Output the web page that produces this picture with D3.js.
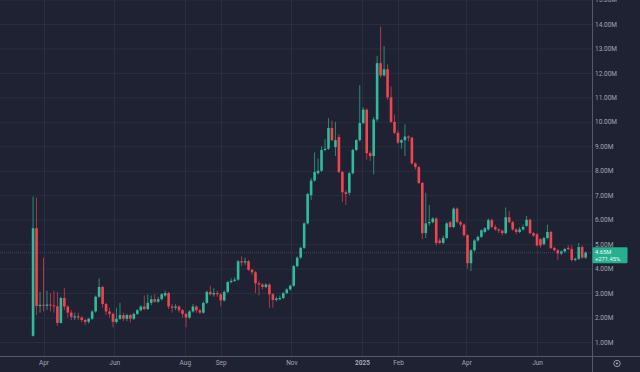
<!DOCTYPE html>
<html><head><meta charset="utf-8">
<script src="https://cdn.jsdelivr.net/npm/d3@7"></script>
<style>html,body{margin:0;padding:0;background:#1f2233;overflow:hidden}svg{display:block}</style>
</head><body><svg id="c" width="640" height="372"></svg>
<script>
// ---- data (3-day candles, values in millions) ----
const startDate = "2024-03-23";
const stepDays = 3;
const opens = [1.25,5.65,2.47,2.52,2.48,2.53,2.50,2.46,1.78,2.80,2.45,2.20,2.00,2.05,2.00,1.90,1.83,1.95,2.25,2.85,
3.25,2.55,2.25,2.15,1.82,1.95,2.10,1.95,2.10,1.95,2.15,2.30,2.45,2.35,2.60,2.75,2.65,2.75,2.90,3.00,
2.45,2.40,2.45,2.30,2.15,2.00,2.25,2.45,2.30,2.20,2.60,3.05,2.95,3.00,2.95,2.70,3.05,3.45,3.50,3.55,
4.30,4.25,4.30,3.95,3.85,3.40,3.35,3.25,3.35,2.95,2.72,2.75,2.80,3.00,3.15,3.30,4.10,4.45,4.85,5.85,
7.00,7.60,7.90,8.00,8.85,8.90,9.75,8.97,9.38,7.95,7.12,7.10,7.90,8.85,9.25,9.95,10.50,8.72,8.60,10.10,
12.40,11.90,12.15,11.00,10.00,9.55,9.15,9.25,9.40,9.35,8.30,8.15,7.50,5.45,5.85,5.90,6.05,5.15,5.05,5.25,
5.90,5.70,6.45,5.90,5.80,5.37,4.22,4.75,5.15,5.30,5.50,5.60,5.98,5.70,5.60,5.55,5.45,6.10,5.90,5.60,
5.50,5.60,5.75,6.00,5.45,5.40,5.20,5.00,5.25,5.50,4.84,4.75,4.62,4.70,4.85,4.80,4.35,4.40,4.88,4.45];
const highs = [6.95,6.90,3.05,4.45,3.10,3.00,3.10,3.05,2.85,3.20,2.50,2.30,2.20,2.20,2.05,1.95,2.00,2.30,2.90,3.60,
3.30,2.60,2.40,2.20,2.40,2.60,2.20,2.15,2.15,2.20,2.35,2.50,2.90,2.95,2.90,2.95,2.85,3.00,3.10,3.05,
2.55,2.55,2.50,2.35,2.20,2.30,2.55,2.50,2.35,2.65,3.10,3.30,3.20,3.10,3.00,3.10,3.50,3.60,3.65,4.35,
4.50,4.45,4.35,4.00,3.90,3.50,3.40,3.40,3.40,3.00,2.85,2.90,3.05,3.20,3.35,4.15,4.50,4.90,5.90,7.10,
7.70,8.75,8.50,9.00,9.30,10.15,10.05,10.00,9.50,8.00,7.20,7.95,8.90,9.30,11.50,10.60,10.55,8.80,10.20,12.70,
13.90,13.10,12.35,11.45,10.30,9.65,9.30,9.90,9.45,9.40,8.35,8.20,7.55,7.10,6.60,6.10,6.10,5.25,5.35,5.90,
5.95,6.50,6.50,5.95,5.85,5.40,4.80,5.20,5.35,5.60,5.70,6.05,6.05,5.80,5.65,5.60,6.50,6.35,5.95,5.65,
5.70,5.80,6.15,6.05,5.50,5.45,5.25,5.30,5.80,5.55,4.90,4.80,4.75,4.85,4.95,4.95,4.45,5.05,4.95,4.70];
const lows = [1.22,2.10,2.20,2.25,2.30,2.25,2.20,1.65,1.75,2.30,2.00,1.90,1.90,1.90,1.80,1.70,1.75,1.90,2.20,2.80,
2.40,2.10,2.00,1.60,1.75,1.90,1.85,1.85,1.80,1.90,2.10,2.25,2.30,2.30,2.50,2.60,2.60,2.70,2.85,2.35,
2.20,2.30,2.20,2.00,1.60,1.95,2.20,2.20,2.15,2.15,2.55,2.90,2.85,2.85,2.45,2.65,3.00,3.40,3.45,3.50,
4.10,4.15,3.90,3.75,3.00,2.90,3.15,3.20,2.40,2.40,2.65,2.70,2.75,2.95,3.10,3.25,4.05,4.40,4.80,5.80,
6.80,7.55,7.85,7.95,8.80,8.85,9.20,8.60,7.90,6.72,6.60,7.00,7.85,8.80,9.20,9.90,8.45,8.40,7.85,10.00,
11.80,11.85,10.90,9.95,9.50,9.10,8.90,8.60,9.20,8.25,8.05,7.45,5.20,5.25,5.75,5.85,4.95,5.00,5.00,5.20,
5.65,5.65,5.85,5.70,5.30,4.00,3.90,4.70,5.10,5.25,5.45,5.55,5.65,5.55,5.45,5.35,5.40,5.85,5.55,5.40,
5.45,5.55,5.70,5.40,5.30,4.90,4.85,4.95,5.20,4.80,4.70,4.35,4.55,4.65,4.75,4.30,4.30,4.35,4.40,4.40];
const closes = [5.65,2.47,2.52,2.48,2.53,2.50,2.46,1.78,2.80,2.45,2.20,2.03,2.05,2.00,1.90,1.82,1.95,2.25,2.85,3.25,
2.55,2.25,2.15,1.82,1.95,2.10,1.95,2.10,1.95,2.15,2.30,2.45,2.35,2.60,2.75,2.65,2.75,2.95,3.00,2.45,
2.40,2.45,2.30,2.15,2.00,2.25,2.45,2.30,2.20,2.60,3.05,2.95,3.00,2.95,2.70,3.05,3.45,3.50,3.55,4.30,
4.25,4.30,3.95,3.85,3.40,3.35,3.25,3.35,2.95,2.72,2.78,2.80,3.00,3.15,3.30,4.10,4.45,4.85,5.85,7.05,
7.60,7.95,8.00,8.85,8.90,9.75,9.25,9.25,7.95,7.12,7.05,7.90,8.85,9.25,9.95,10.50,8.72,8.60,10.10,12.40,
11.90,12.15,11.00,10.00,9.55,9.15,9.25,9.40,9.35,8.30,8.15,7.50,5.45,5.85,5.90,6.05,5.05,5.05,5.25,5.85,
5.70,6.45,5.90,5.80,5.37,4.22,4.75,5.15,5.30,5.57,5.65,5.98,5.70,5.60,5.55,5.45,6.10,5.90,5.60,5.50,
5.60,5.70,6.00,5.45,5.35,4.95,4.95,5.25,5.50,4.84,4.75,4.62,4.70,4.80,4.80,4.35,4.40,4.88,4.45,4.65];
const yTicks = [1,2,3,4,5,6,7,8,9,10,11,12,13,14,15];
const xTickDates = ["2024-04-01","2024-06-01","2024-08-01","2024-09-01","2024-11-01","2025-01-01","2025-02-01","2025-04-01","2025-06-01"];
const xTickLabels = ["Apr","Jun","Aug","Sep","Nov","2025","Feb","Apr","Jun"];
const lastPrice = 4.65;
const lastLabel = "4.65M";
const changeLabel = "+271.45%";

// ---- layout / style ----
const W = 640, H = 372, plotR = 592, plotB = 356;
const BG = "#1f2233", GRID = "#2a2e42", AXIS = "#55596b", TXT = "#a3a6b2";
const UP = "#2dbd9a", DN = "#ef4550";
const parse = d3.utcParse("%Y-%m-%d");
const start = parse(startDate);
const candles = closes.map((c, i) => ({
  date: d3.utcDay.offset(start, i * stepDays), o: opens[i], h: highs[i], l: lows[i], c
}));

const x = d3.scaleUtc().domain([parse("2024-04-01"), parse("2025-06-01")]).range([43.5, 537]);
const y = d3.scaleLinear().domain([1, 14]).range([342, 24]);
const bodyW = 2.6;

const svg = d3.select("#c");
svg.append("rect").attr("width", W).attr("height", H).attr("fill", BG);
svg.append("defs").append("clipPath").attr("id", "clip")
  .append("rect").attr("width", plotR).attr("height", plotB);

const grid = svg.append("g");
grid.selectAll("line.h").data(yTicks).join("line")
  .attr("x1", 0).attr("x2", plotR).attr("y1", d => y(d) + 0.5).attr("y2", d => y(d) + 0.5)
  .attr("stroke", GRID).attr("stroke-width", 1);
grid.selectAll("line.v").data(xTickDates).join("line")
  .attr("x1", d => Math.round(x(parse(d))) + 0.5).attr("x2", d => Math.round(x(parse(d))) + 0.5)
  .attr("y1", 0).attr("y2", plotB).attr("stroke", GRID).attr("stroke-width", 1);

// price line
svg.append("line").attr("x1", 0).attr("x2", plotR)
  .attr("y1", y(lastPrice)).attr("y2", y(lastPrice))
  .attr("stroke", "#3e4a55").attr("stroke-width", 1).attr("stroke-dasharray", "1,1");

const cg = svg.append("g").attr("clip-path", "url(#clip)");
const g = cg.selectAll("g").data(candles).join("g");
g.append("line")
  .attr("x1", d => x(d.date)).attr("x2", d => x(d.date))
  .attr("y1", d => y(d.h)).attr("y2", d => y(d.l))
  .attr("stroke", d => d.c >= d.o ? UP : DN).attr("stroke-width", 0.9).attr("opacity", 0.75);
g.append("rect")
  .attr("x", d => x(d.date) - bodyW / 2).attr("width", bodyW)
  .attr("y", d => y(Math.max(d.o, d.c)))
  .attr("height", d => Math.max(1, Math.abs(y(d.o) - y(d.c))))
  .attr("fill", d => d.c >= d.o ? UP : DN);

// axes separators
svg.append("line").attr("x1", plotR + 0.5).attr("x2", plotR + 0.5).attr("y1", 0).attr("y2", H)
  .attr("stroke", AXIS);
svg.append("line").attr("x1", 0).attr("x2", W).attr("y1", plotB + 0.5).attr("y2", plotB + 0.5)
  .attr("stroke", AXIS);

// right axis
const ya = svg.append("g").attr("transform", `translate(${plotR + 2},0)`)
  .call(d3.axisRight(y).tickValues(yTicks).tickSize(0).tickPadding(1).tickFormat(d => d.toFixed(2) + "M"));
ya.select(".domain").remove();
ya.selectAll("text").attr("fill", TXT).style("font-family", "Roboto, 'Noto Sans', sans-serif").style("font-size", "6.5px");

// bottom axis
const xa = svg.append("g").attr("transform", `translate(0,${plotB})`)
  .call(d3.axisBottom(x).tickValues(xTickDates.map(parse)).tickSize(0).tickPadding(4)
    .tickFormat((d, i) => xTickLabels[i]));
xa.select(".domain").remove();
xa.selectAll("text").attr("fill", TXT).style("font-family", "Roboto, 'Noto Sans', sans-serif")
  .style("font-size", "6.5px").style("font-weight", (d, i) => xTickLabels[i] === "2025" ? "700" : "400");

// last price label
const ly = y(lastPrice);
svg.append("rect").attr("x", plotR + 0.5).attr("y", ly - 5.5).attr("width", 35).attr("height", 16)
  .attr("fill", "#26b08f").attr("rx", 1);
svg.append("text").attr("x", plotR + 3).attr("y", ly + 1.4).text(lastLabel)
  .attr("fill", "#e8fff7").style("font-family", "Roboto, sans-serif").style("font-size", "5.8px");
svg.append("text").attr("x", plotR + 3).attr("y", ly + 8.4).text(changeLabel)
  .attr("fill", "#e8fff7").style("font-family", "Roboto, sans-serif").style("font-size", "5.8px");

// settings icon
svg.append("circle").attr("cx", 617).attr("cy", 363.5).attr("r", 3.2)
  .attr("fill", "none").attr("stroke", TXT).attr("stroke-width", 0.9);
svg.append("circle").attr("cx", 617).attr("cy", 363.5).attr("r", 1.1).attr("fill", TXT);
</script></body></html>
